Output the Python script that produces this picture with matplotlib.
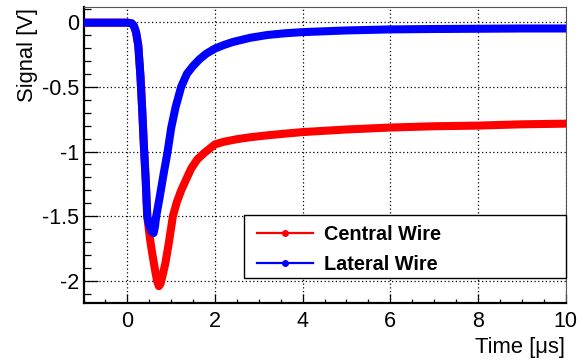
import matplotlib
matplotlib.use("Agg")
import matplotlib.pyplot as plt
from matplotlib.lines import Line2D
from matplotlib.patches import Rectangle
from matplotlib.ticker import MultipleLocator

plt.rcParams['font.family'] = ['Liberation Sans', 'DejaVu Sans']

# ---- data ----
central_t = [-1.0, -0.5, 0.0, 0.1, 0.15, 0.2, 0.25, 0.3, 0.34, 0.38, 0.42, 0.455,
             0.49, 0.52, 0.56, 0.60, 0.64, 0.68, 0.72, 0.76, 0.81, 0.87, 0.95,
             1.04, 1.13, 1.23, 1.35, 1.46, 1.6, 1.76, 2.0, 2.2, 2.5, 2.8, 3.2,
             3.6, 4.0, 5.0, 6.0, 7.0, 8.0, 9.0, 10.0]
central_v = [-0.005, -0.005, -0.005, -0.01, -0.03, -0.08, -0.18, -0.42, -0.68, -0.97,
             -1.22, -1.50, -1.60, -1.68, -1.77, -1.85, -1.93, -2.00, -2.04, -2.02,
             -1.95, -1.86, -1.70, -1.50, -1.39, -1.30, -1.21, -1.13, -1.06, -1.01,
             -0.945, -0.925, -0.905, -0.89, -0.875, -0.862, -0.85, -0.83, -0.815,
             -0.805, -0.80, -0.79, -0.785]

lateral_t = [-1.0, -0.5, 0.0, 0.1, 0.15, 0.2, 0.25, 0.3, 0.34, 0.38, 0.42, 0.455,
             0.50, 0.55, 0.60, 0.63, 0.66, 0.74, 0.83, 0.92, 1.0, 1.1, 1.23, 1.36,
             1.5, 1.64, 1.8, 2.0, 2.2, 2.4, 2.8, 3.2, 3.6, 4.0, 5.0, 6.0, 7.0,
             8.0, 9.0, 10.0]
lateral_v = [-0.005, -0.005, -0.005, -0.01, -0.03, -0.08, -0.18, -0.42, -0.68, -0.97,
             -1.22, -1.50, -1.57, -1.615, -1.63, -1.58, -1.50, -1.35, -1.17, -1.00,
             -0.82, -0.66, -0.50, -0.40, -0.34, -0.29, -0.245, -0.205, -0.178,
             -0.155, -0.122, -0.10, -0.087, -0.078, -0.065, -0.057, -0.054,
             -0.052, -0.05, -0.05]

series_labels = ["Central Wire", "Lateral Wire"]
series_colors = ["#ff0000", "#0000ff"]

W, H = 583, 361
fig = plt.figure(figsize=(W / 100, H / 100), dpi=100)
ax = fig.add_axes([83.5 / W, 1 - 303 / H, 482 / W, 296 / H])

def px(x, y):
    return (x / W, 1 - y / H)

lw = 5.8
ax.plot(central_t, central_v, color=series_colors[0], lw=lw,
        solid_capstyle='round', solid_joinstyle='round', zorder=3)
ax.plot(lateral_t, lateral_v, color=series_colors[1], lw=lw,
        solid_capstyle='round', solid_joinstyle='round', zorder=4)

ax.set_xlim(-1, 10)
ax.set_ylim(-2.17, 0.116)

ax.xaxis.set_major_locator(MultipleLocator(2))
ax.xaxis.set_minor_locator(MultipleLocator(0.5))
ax.yaxis.set_major_locator(MultipleLocator(0.5))
ax.yaxis.set_minor_locator(MultipleLocator(0.1))

ax.grid(True, which='major', color='black', linestyle=(0, (1, 2)), lw=0.9)
ax.set_axisbelow(True)

ax.tick_params(axis='both', which='both', direction='in', top=False, right=False,
               labelsize=15.5, width=0.9, color='black')
ax.tick_params(axis='x', which='major', length=6.4, pad=5.5)
ax.tick_params(axis='x', which='minor', length=3.2)
ax.tick_params(axis='y', which='major', length=10.4, pad=3)
ax.tick_params(axis='y', which='minor', length=5.2)

fmt = plt.FuncFormatter(lambda v, pos: '%g' % v)
ax.yaxis.set_major_formatter(fmt)
ax.xaxis.set_major_formatter(fmt)

for side in ['left', 'bottom']:
    ax.spines[side].set_linewidth(1.6)
    ax.spines[side].set_color('black')
for side in ['top', 'right']:
    ax.spines[side].set_linewidth(0.8)
    ax.spines[side].set_color('#555555')

fig.text(*px(27, 8), "Signal [V]", rotation=90, ha='center', va='top',
         fontsize=15.8)
fig.text(*px(565, 347), "Time [\u03bcs]", ha='right', va='center',
         fontsize=15.8)

# ---- legend (ROOT style box) ----
x0, x1, y0, y1 = 244, 565.7, 215, 278
fig.patches.append(Rectangle(px(x0, y1), (x1 - x0) / W, (y1 - y0) / H,
                             transform=fig.transFigure, facecolor='white',
                             edgecolor='black', lw=1.0, zorder=10))
rows = [232.7, 263.3]
for lab, col, ry in zip(series_labels, series_colors, rows):
    fig.add_artist(Line2D([257 / W, 313 / W], [1 - ry / H, 1 - ry / H],
                          color=col, lw=1.6, transform=fig.transFigure, zorder=11))
    fig.add_artist(Line2D([285 / W], [1 - ry / H], color=col, marker='o',
                          markersize=4, transform=fig.transFigure, zorder=12))
    fig.text(*px(324, ry + 7.1), lab, ha='left', va='baseline', fontsize=14.3,
             fontweight='bold', zorder=12)

fig.savefig("out.png", dpi=100)
